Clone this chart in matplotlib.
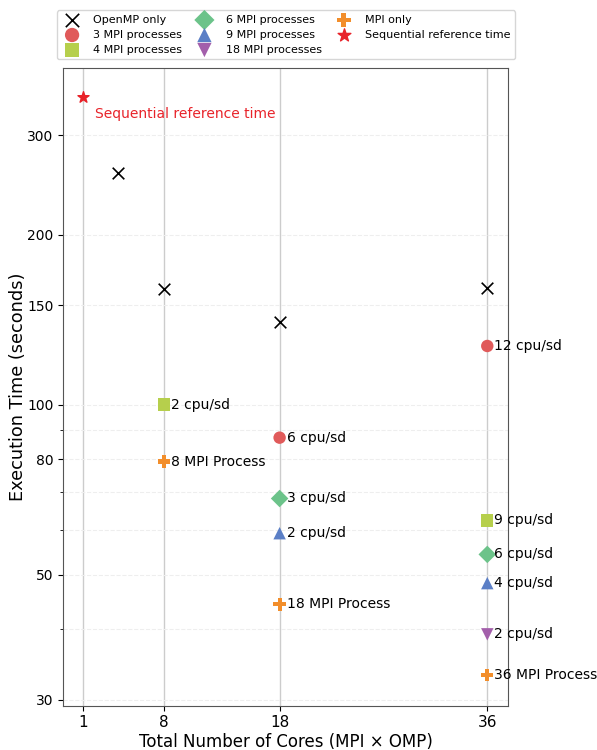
import numpy as np
import matplotlib
matplotlib.use("Agg")
import matplotlib.pyplot as plt
from matplotlib.ticker import FixedLocator, NullFormatter

# Sequential reference
seq_core = 1
seq_time = 350

# OpenMP only
omp_cores = [4, 8, 18, 36]
omp_times = [257, 160, 140, 161]

# Hybrid runs
mpi3_cores = [18, 36]
mpi3_times = [87.4, 127]
mpi3_notes = ["6 cpu/sd", "12 cpu/sd"]

mpi4_cores = [8, 36]
mpi4_times = [100, 62.4]
mpi4_notes = ["2 cpu/sd", "9 cpu/sd"]

mpi6_cores = [18, 36]
mpi6_times = [68.2, 54.3]
mpi6_notes = ["3 cpu/sd", "6 cpu/sd"]

mpi9_cores = [18, 36]
mpi9_times = [59.2, 48.3]
mpi9_notes = ["2 cpu/sd", "4 cpu/sd"]

mpi18_cores = [36]
mpi18_times = [39.2]
mpi18_notes = ["2 cpu/sd"]

mpi_cores = [8, 18, 36]
mpi_times = [79.3, 44.3, 33.2]
mpi_notes = ["8 MPI Process", "18 MPI Process", "36 MPI Process"]

xticks = [1, 8, 18, 36]
yticks = [30, 50, 80, 100, 150, 200, 300]
yminor = [40, 60, 70, 90]

fig, ax = plt.subplots(figsize=(5.97, 7.5), dpi=100)

for x in xticks:
    ax.axvline(x, color="#cccccc", lw=1.0, zorder=0)
for y in yticks + yminor:
    ax.axhline(y, color="#eeeeee", lw=0.8, ls="--", zorder=0)

ax.scatter(omp_cores, omp_times, marker="x", s=70, color="black", lw=1.2,
           label="OpenMP only", zorder=3)

series = [
    ("3 MPI processes", "o", "#e05a5a", mpi3_cores, mpi3_times, mpi3_notes),
    ("4 MPI processes", "s", "#b6cf4c", mpi4_cores, mpi4_times, mpi4_notes),
    ("6 MPI processes", "D", "#6cc38a", mpi6_cores, mpi6_times, mpi6_notes),
    ("9 MPI processes", "^", "#5b7fc6", mpi9_cores, mpi9_times, mpi9_notes),
    ("18 MPI processes", "v", "#a35fab", mpi18_cores, mpi18_times, mpi18_notes),
    ("MPI only", "P", "#f28e2b", mpi_cores, mpi_times, mpi_notes),
]
for label, marker, color, xs, ys, notes in series:
    ax.scatter(xs, ys, marker=marker, s=80, color=color, label=label,
               edgecolors="none", zorder=3)
    for x, y, t in zip(xs, ys, notes):
        ax.annotate(t, (x, y), xytext=(5, 0), textcoords="offset points",
                    va="center", ha="left", fontsize=10, zorder=4)

ax.scatter([seq_core], [seq_time], marker="*", s=70, color="#e8232a",
           label="Sequential reference time", zorder=3)
ax.annotate("Sequential reference time", (seq_core, seq_time),
            xytext=(8, -12), textcoords="offset points", color="#e8232a",
            fontsize=10, va="center")

ax.set_yscale("log")
ax.set_xlim(-0.75, 37.8)
ax.set_ylim(29.3, 394)
ax.set_xticks(xticks)
ax.set_xticklabels([str(x) for x in xticks], fontsize=11)
ax.yaxis.set_major_locator(FixedLocator(yticks))
ax.yaxis.set_minor_locator(FixedLocator(yminor))
ax.yaxis.set_minor_formatter(NullFormatter())
ax.set_yticklabels([str(y) for y in yticks])
ax.tick_params(axis="y", labelsize=10)
for sp in ax.spines.values():
    sp.set_color("#555555")

ax.set_xlabel("Total Number of Cores (MPI × OMP)", fontsize=12, labelpad=2)
ax.set_ylabel("Execution Time (seconds)", fontsize=12.8, labelpad=0)

ax.legend(loc="lower center", bbox_to_anchor=(0.5, 1.0), ncol=3, fontsize=8,
          frameon=True, handletextpad=0.9, columnspacing=1.0, labelspacing=0.45,
          borderaxespad=0.8, scatterpoints=1, markerscale=1.15)

fig.subplots_adjust(left=0.106, right=0.851, top=0.909, bottom=0.059)
fig.savefig("out.png", dpi=100)
